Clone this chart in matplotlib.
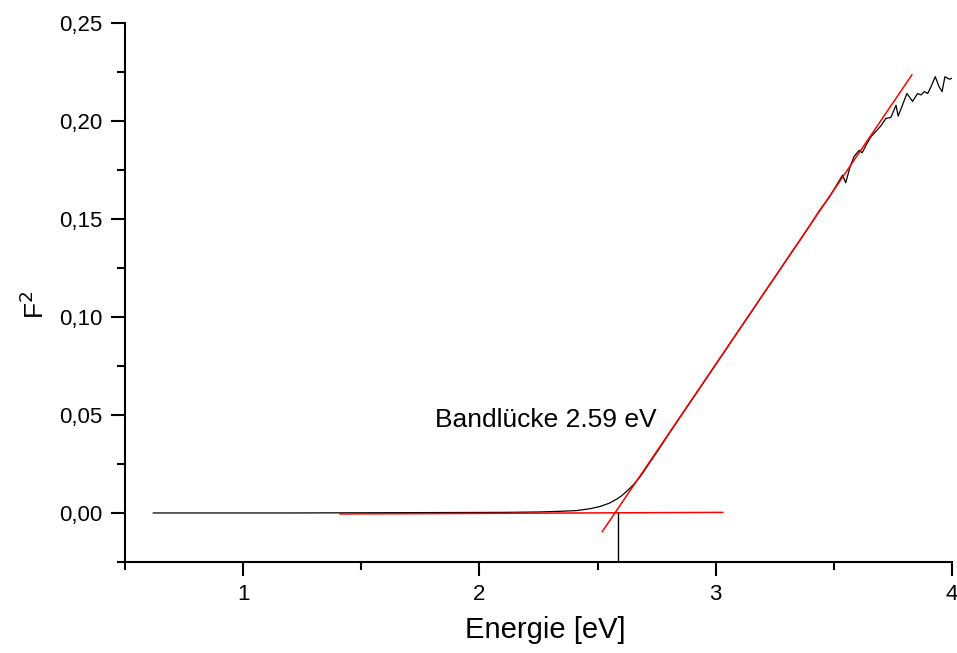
import numpy as np
import matplotlib.pyplot as plt
from matplotlib.ticker import MultipleLocator, FixedLocator

plt.rcParams['font.family'] = ['Liberation Sans', 'DejaVu Sans']

energy = [0.62, 1.20, 1.80, 2.10, 2.25, 2.33, 2.41, 2.47, 2.51, 2.55, 2.58,
          2.60, 2.63, 2.65, 2.68, 2.70, 2.75, 2.80, 2.85, 2.90, 2.95, 3.00,
          3.05, 3.10, 3.15, 3.20, 3.25, 3.30, 3.35, 3.40, 3.44, 3.48, 3.51,
          3.537, 3.55, 3.57, 3.586, 3.607, 3.62, 3.64, 3.657, 3.68, 3.699,
          3.72, 3.741, 3.763, 3.772, 3.79, 3.809, 3.833, 3.854, 3.869, 3.883,
          3.897, 3.913, 3.929, 3.945, 3.958, 3.97, 3.989, 4.0]
f2 = [0.0, 0.0, 0.0002, 0.0003, 0.0005, 0.0008, 0.0012, 0.0022, 0.0033,
      0.0050, 0.0070, 0.0086, 0.0118, 0.0142, 0.0185, 0.0220, 0.0309,
      0.0400, 0.0490, 0.0579, 0.0668, 0.0757, 0.0846, 0.0936, 0.1024,
      0.1115, 0.1202, 0.1292, 0.1380, 0.1470, 0.1545, 0.1610, 0.1670,
      0.1724, 0.1685, 0.1772, 0.1820, 0.1850, 0.1838, 0.1885, 0.1920,
      0.1950, 0.1975, 0.2013, 0.2018, 0.2080, 0.2025, 0.2080, 0.2140,
      0.2100, 0.2140, 0.2133, 0.2150, 0.2140, 0.2180, 0.2226, 0.2175,
      0.2150, 0.2226, 0.2213, 0.2218]

# linear fit of the edge and baseline
tangent_x = [2.52, 3.83]
tangent_y = [-0.0095, 0.2235]
base_x = [1.41, 3.03]
base_y = [-0.0005, 0.0003]
gap = 2.585

yticks = [0.0, 0.05, 0.10, 0.15, 0.20, 0.25]
ylabels = ['0,00', '0,05', '0,10', '0,15', '0,20', '0,25']
xticks = [1, 2, 3, 4]

fig = plt.figure(figsize=(9.57, 6.53), dpi=100)
ax = fig.add_axes([0.1306, 0.1394, 0.8642, 0.8254])

ax.plot(energy, f2, color='black', lw=0.9)
ax.plot(tangent_x, tangent_y, color='red', lw=1.1)
ax.plot(base_x, base_y, color='red', lw=1.1)
ax.plot([gap, gap], [-0.025, 0.0], color='black', lw=1.0)

ax.set_xlim(0.5, 4.0)
ax.set_ylim(-0.025, 0.25)

ax.spines['top'].set_visible(False)
ax.spines['right'].set_visible(False)
for s in ['left', 'bottom']:
    ax.spines[s].set_linewidth(1.5)

ax.xaxis.set_major_locator(FixedLocator(xticks))
ax.xaxis.set_minor_locator(MultipleLocator(0.5))
ax.set_yticks(yticks)
ax.set_yticklabels(ylabels)
ax.yaxis.set_minor_locator(MultipleLocator(0.025))
ax.tick_params(which='major', direction='out', length=10, width=1.5,
               labelsize=16, pad=6)
ax.tick_params(which='minor', direction='out', length=6, width=1.5)

ax.set_xlabel('Energie [eV]', fontsize=21)
ax.xaxis.set_label_coords(0.508, -0.10)
ax.set_ylabel('F$^2$', fontsize=19)
ax.yaxis.set_label_coords(-0.092, 0.477)

ax.text(1.813, 0.0439, 'Bandlücke 2.59 eV', fontsize=19, ha='left',
        va='baseline')

fig.savefig('out.png', dpi=100)
